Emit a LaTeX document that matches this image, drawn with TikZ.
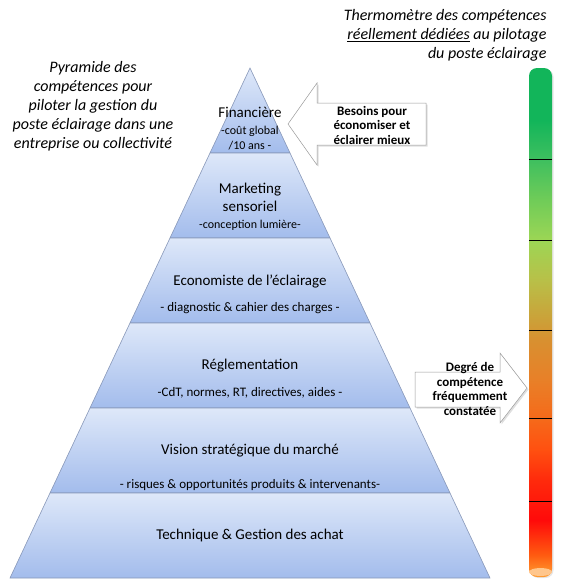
\documentclass[tikz,border=0pt]{standalone}
\usepackage{fontspec}
\setmainfont{Carlito}
\usetikzlibrary{shadows}
\definecolor{layertop}{HTML}{DEE8F9}
\definecolor{layerbot}{HTML}{A3BCEC}
\definecolor{layerline}{HTML}{8797B8}
\definecolor{arrowline}{HTML}{9A9A9A}
\definecolor{th01}{HTML}{FF9A30}
\definecolor{th02}{HTML}{FF5A10}
\definecolor{th03}{HTML}{FF0A0A}
\definecolor{th04}{HTML}{FF2A0C}
\definecolor{th05}{HTML}{FF5010}
\definecolor{th06}{HTML}{F56A1A}
\definecolor{th07}{HTML}{E88028}
\definecolor{th08}{HTML}{D89030}
\definecolor{th09}{HTML}{CCA038}
\definecolor{th10}{HTML}{B8C048}
\definecolor{th11}{HTML}{9CD655}
\definecolor{th12}{HTML}{70CC58}
\definecolor{th13}{HTML}{3DBF5F}
\definecolor{th14}{HTML}{12B55A}
\pgfdeclareverticalshading{thermo}{100bp}{%
  color(0bp)=(th01); color(25.2bp)=(th01); color(27.2bp)=(th02); color(30.6bp)=(th03);
  color(34.5bp)=(th04); color(37.5bp)=(th05); color(40.6bp)=(th06); color(44.4bp)=(th07);
  color(48.3bp)=(th08); color(50.2bp)=(th09); color(54.2bp)=(th10); color(58.1bp)=(th11);
  color(62bp)=(th12); color(66.1bp)=(th13); color(69.9bp)=(th14); color(100bp)=(th14)}

\begin{document}
\begin{tikzpicture}[x=1pt, y=-1pt,
    layer/.style={draw=layerline, line width=0.6pt, top color=layertop, bottom color=layerbot},
    callout/.style={draw=arrowline, fill=white, line width=0.5pt, drop shadow={opacity=0.25, shadow xshift=1.5pt, shadow yshift=-1.5pt}},
    title/.style={font=\fontsize{15}{18}\selectfont, align=center},
    sub/.style={font=\fontsize{13}{15}\selectfont, align=center},
    calltext/.style={font=\bfseries\fontsize{13}{14.5}\selectfont, align=center}]
    \useasboundingbox (0,0) rectangle (564,587);
    % pyramide : 6 tranches de 85 pt
    \foreach \k in {1,...,6}
        \draw[layer] ({250-40*(\k-1)},{68+85*(\k-1)}) -- ({250+40*(\k-1)},{68+85*(\k-1)})
            -- ({250+40*\k},{68+85*\k}) -- ({250-40*\k},{68+85*\k}) -- cycle;
    \node[title] (fin) at (250,112) {Financière};
    \node[sub, font=\fontsize{12}{15}\selectfont] (finsub) at (250,138) {-coût global\\/10 ans -};
    \node[title] (mkt) at (250,197) {Marketing\\sensoriel};
    \node[sub, font=\fontsize{12}{15}\selectfont] (mktsub) at (250,225) {-conception lumière-};
    \node[title] (eco) at (250,281) {Economiste de l’éclairage};
    \node[sub] (ecosub) at (250,308) {- diagnostic \& cahier des  charges -};
    \node[title] (regl) at (250,366) {Réglementation};
    \node[sub] (reglsub) at (250,393) {-CdT, normes, RT, directives, aides -};
    \node[title] (vision) at (250,451) {Vision stratégique du marché};
    \node[sub] (visionsub) at (250,485) {- risques \& opportunités produits \& intervenants-};
    \node[title] (tech) at (250,535) {Technique \& Gestion des achat};
    % textes en italique
    \node[align=center, font=\itshape\fontsize{16}{19}\selectfont] (pyr) at (93,106)
        {Pyramide des\\compétences pour\\piloter la gestion du\\poste éclairage dans une\\entreprise ou collectivité};
    \node[align=right, anchor=east, font=\itshape\fontsize{16}{19}\selectfont] (thtitle) at (550,35)
        {Thermomètre des compétences\\\underline{réellement dédiées} au pilotage\\du poste éclairage};
    % fleches
    \draw[callout] (426,103) -- (317,103) -- (317,83) -- (288,124) -- (317,165) -- (317,145) -- (426,145) -- cycle;
    \node[calltext] (besoins) at (372,125) {Besoins pour\\économiser et\\éclairer mieux};
    \draw[callout] (415,372) -- (500,372) -- (500,353) -- (527,388) -- (500,423) -- (500,407) -- (415,407) -- cycle;
    \node[calltext] (degre) at (470,389) {Degré de\\compétence\\fréquemment\\constatée};
    % thermometre
    \shade[shading=thermo, rounded corners=8pt, drop shadow={opacity=0.2, shadow xshift=1.5pt, shadow yshift=-1pt}]
        (529,68) rectangle (552,577);
    \fill[orange!45!white] (540.5,572) ellipse (11.5 and 4);
    \foreach \y in {159,240,330,418,501}
        \draw[line width=0.7pt] (529,\y) -- (552,\y);
\end{tikzpicture}
\end{document}
